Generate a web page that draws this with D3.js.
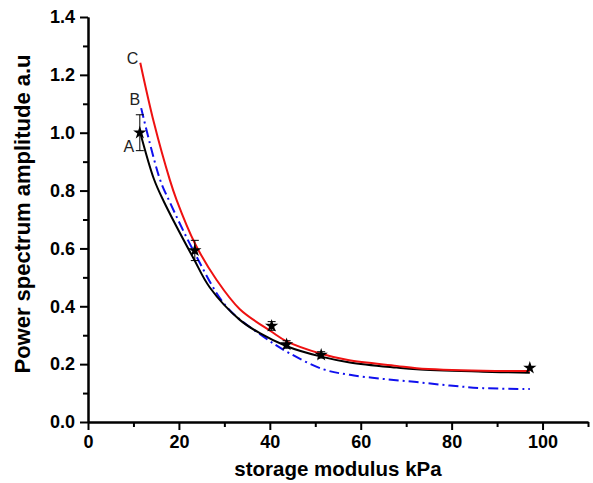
<!DOCTYPE html>
<html><head><meta charset="utf-8">
<script src="https://cdn.jsdelivr.net/npm/d3@7"></script>
<style>
html,body{margin:0;padding:0;background:#fff;}
svg{display:block;font-family:"Liberation Sans",Arial,sans-serif;}
</style></head>
<body><svg id="chart" width="593" height="483"></svg>
<script>
// ---- data ----
const xMajorTicks = [0, 20, 40, 60, 80, 100];
const xMinorTicks = [10, 30, 50, 70, 90, 110];
const yMajorTicks = [0, 0.2, 0.4, 0.6, 0.8, 1.0, 1.2, 1.4];
const yMinorTicks = [0.1, 0.3, 0.5, 0.7, 0.9, 1.1, 1.3];

const pointX   = [11.4, 23.5, 40.4, 43.7, 51.3, 97.2];
const pointY   = [1.0, 0.593, 0.332, 0.268, 0.232, 0.187];
const pointErr = [0.062, 0.035, 0.015, 0.013, 0.011, 0.004];

const curveA_x = [11.5, 14.5, 16.6, 23.2, 26.8, 33.4, 37.8, 43.7, 51.3, 57.6, 67.9, 72.3, 86.9, 97.2];
const curveA_y = [1.0, 0.84, 0.765, 0.566, 0.465, 0.353, 0.307, 0.262, 0.226, 0.206, 0.188, 0.182, 0.174, 0.170];

const curveB_x = [11.7, 15.8, 18.0, 23.5, 30.5, 38.6, 44.4, 51.8, 57.6, 64.9, 72.3, 79.6, 86.9, 97.2];
const curveB_y = [1.085, 0.84, 0.76, 0.583, 0.398, 0.295, 0.237, 0.182, 0.163, 0.149, 0.138, 0.126, 0.117, 0.114];

const curveC_x = [11.5, 14.5, 18.0, 19.5, 23.5, 28.3, 33.4, 40.4, 43.7, 51.3, 57.2, 67.9, 72.3, 86.9, 97.2];
const curveC_y = [1.242, 1.035, 0.837, 0.767, 0.618, 0.491, 0.39, 0.312, 0.279, 0.236, 0.214, 0.194, 0.186, 0.177, 0.176];

const curveLabels = ["A", "B", "C"];

// ---- drawing ----
const svg = d3.select("#chart");
const x = d3.scaleLinear().domain([0, 110]).range([88, 588]);
const y = d3.scaleLinear().domain([0, 1.4]).range([422, 17]);

const fontTick = "bold 18px 'Liberation Sans', Arial, sans-serif";

function styleAxis(g) {
  g.selectAll("path.domain").attr("stroke", "#000").attr("stroke-width", 2);
  g.selectAll(".tick line").attr("stroke", "#000").attr("stroke-width", 2);
  g.selectAll(".tick text").style("font", fontTick).attr("fill", "#000");
}

// minor ticks
svg.append("g").attr("transform", "translate(0,422)")
  .call(d3.axisBottom(x).tickValues(xMinorTicks).tickSize(5).tickSizeOuter(0).tickFormat(""))
  .call(styleAxis);
svg.append("g").attr("transform", "translate(88,0)")
  .call(d3.axisLeft(y).tickValues(yMinorTicks).tickSize(5).tickSizeOuter(0).tickFormat(""))
  .call(styleAxis);
// major ticks
svg.append("g").attr("transform", "translate(0,422)")
  .call(d3.axisBottom(x).tickValues(xMajorTicks).tickSize(8).tickSizeOuter(0).tickPadding(5).tickFormat(d3.format("d")))
  .call(styleAxis);
svg.append("g").attr("transform", "translate(88,0)")
  .call(d3.axisLeft(y).tickValues(yMajorTicks).tickSize(8).tickSizeOuter(0).tickPadding(5).tickFormat(d3.format(".1f")))
  .call(styleAxis);

// axis titles
svg.append("text").attr("x", 338).attr("y", 476).attr("text-anchor", "middle")
  .style("font", "bold 20.5px 'Liberation Sans', Arial, sans-serif").text("storage modulus kPa");
svg.append("text").attr("transform", "translate(30,214) rotate(-90)").attr("text-anchor", "middle")
  .style("font", "bold 22px 'Liberation Sans', Arial, sans-serif").text("Power spectrum amplitude a.u");

// curves
const line = d3.line().x(d => x(d[0])).y(d => y(d[1])).curve(d3.curveCatmullRom.alpha(0.5));
const zip = (a, b) => a.map((v, i) => [v, b[i]]);

svg.append("path").datum(zip(curveB_x, curveB_y)).attr("d", line)
  .attr("fill", "none").attr("stroke", "#1010ee").attr("stroke-width", 2)
  .attr("stroke-dasharray", "10,4,2,4");
svg.append("path").datum(zip(curveA_x, curveA_y)).attr("d", line)
  .attr("fill", "none").attr("stroke", "#000").attr("stroke-width", 2);
svg.append("path").datum(zip(curveC_x, curveC_y)).attr("d", line)
  .attr("fill", "none").attr("stroke", "#ee1111").attr("stroke-width", 2);

// error bars + stars
const pts = pointX.map((v, i) => ({x: v, y: pointY[i], e: pointErr[i]}));
const eb = svg.append("g").attr("stroke", "#000").attr("stroke-width", 1);
pts.forEach(p => {
  if (p.e > 0.006) {
    eb.append("line").attr("x1", x(p.x)).attr("x2", x(p.x)).attr("y1", y(p.y - p.e)).attr("y2", y(p.y + p.e));
    [p.y - p.e, p.y + p.e].forEach(v => eb.append("line")
      .attr("x1", x(p.x) - 4).attr("x2", x(p.x) + 4).attr("y1", y(v)).attr("y2", y(v)));
  }
});
svg.append("g").selectAll("path").data(pts).join("path")
  .attr("transform", d => `translate(${x(d.x)},${y(d.y)})`)
  .attr("d", d3.symbol(d3.symbolStar, 55))
  .attr("fill", "#000");

// curve labels A, B, C next to curve starts
const labelAnchors = [[curveA_x[0], curveA_y[0]], [curveB_x[0], curveB_y[0]], [curveC_x[0], curveC_y[0]]];
const labelDx = [-6, -1, -2];
const labelDy = [19, -3, 1];
svg.append("g").selectAll("text").data(curveLabels).join("text")
  .attr("x", (d, i) => x(labelAnchors[i][0]) + labelDx[i])
  .attr("y", (d, i) => y(labelAnchors[i][1]) + labelDy[i])
  .attr("text-anchor", "end")
  .style("font", "16px 'Liberation Sans', Arial, sans-serif")
  .attr("fill", "#222")
  .text(d => d);
</script></body></html>
